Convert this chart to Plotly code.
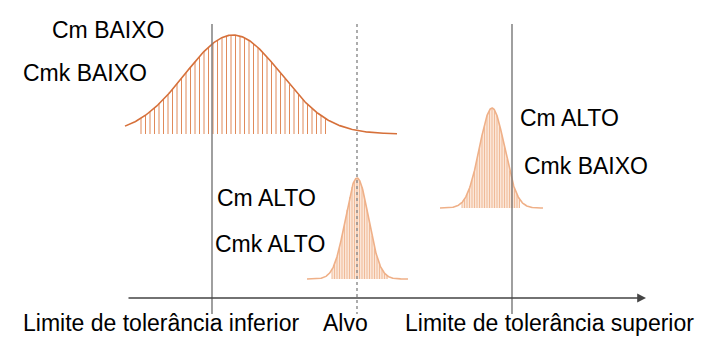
import numpy as np
import plotly.graph_objects as go

# ---- data ----
axis_labels = ["Limite de tolerância inferior", "Alvo", "Limite de tolerância superior"]
axis_label_x = [161, 345, 549]
limit_x = [212, 357, 512]          # LTI, Alvo, LTS
limit_dash = ["solid", "dot", "solid"]

cm_labels = ["Cm BAIXO", "Cmk BAIXO", "Cm ALTO", "Cmk ALTO", "Cm ALTO", "Cmk BAIXO"]
cm_label_x = [50, 21, 215, 213, 518, 522]
cm_label_y = [30, 73, 198, 244, 118, 166]

# bell curves: mean, sigma, peak (top y), base y, curve span, hatch span, hatch step
curve_mean = [233, 357, 492]
curve_sigma = [48, 11.5, 12.5]
curve_top = [35, 178, 108]
curve_base = [134, 279, 208]
curve_lo = [125, 307, 440]
curve_hi = [397, 408, 543]
hatch_lo = [141, 332, 462]
hatch_hi = [327, 388, 520]
hatch_step = [4.5, 2.5, 2.5]
curve_color = ["#d6703a", "#efb088", "#efb088"]
hatch_color = ["#e08a5a", "#f0bb98", "#f0bb98"]
fill_color = [None, "#fbe6d8", "#fbe6d8"]

FONT = "Liberation Sans, Arial, Helvetica, sans-serif"
OFF = 8  # page body margin offset

fig = go.Figure()

def bell(x, m, s, top, base):
    return base - (base - top) * np.exp(-0.5 * ((x - m) / s) ** 2)

for i in range(3):
    m, s, t, b = curve_mean[i], curve_sigma[i], curve_top[i], curve_base[i]
    if fill_color[i]:
        fx = np.linspace(hatch_lo[i], hatch_hi[i], 120)
        px = np.concatenate([[hatch_lo[i]], fx, [hatch_hi[i]]])
        py = np.concatenate([[b], bell(fx, m, s, t, b), [b]])
        fig.add_trace(go.Scatter(x=px, y=py, mode="lines", fill="toself",
                                 fillcolor=fill_color[i], line=dict(width=0),
                                 hoverinfo="skip", showlegend=False))
    hx, hy = [], []
    xv = hatch_lo[i]
    while xv <= hatch_hi[i] + 1e-6:
        hx += [xv, xv, None]
        hy += [b, bell(xv, m, s, t, b), None]
        xv += hatch_step[i]
    fig.add_trace(go.Scatter(x=hx, y=hy, mode="lines",
                             line=dict(color=hatch_color[i], width=1),
                             hoverinfo="skip", showlegend=False))
    xs = np.linspace(curve_lo[i], curve_hi[i], 300)
    fig.add_trace(go.Scatter(x=xs, y=bell(xs, m, s, t, b), mode="lines",
                             line=dict(color=curve_color[i], width=1.6),
                             hoverinfo="skip", showlegend=False))

for xv, d in zip(limit_x, limit_dash):
    fig.add_trace(go.Scatter(x=[xv, xv], y=[24, 314], mode="lines",
                             line=dict(color="#777777" if d == "solid" else "#8a8a8a",
                                       width=1.4, dash=d),
                             hoverinfo="skip", showlegend=False))

fig.add_annotation(x=646, y=298, ax=127, ay=298, xref="x", yref="y",
                   axref="x", ayref="y", text="", showarrow=True,
                   arrowhead=2, arrowsize=1.1, arrowwidth=1.6, arrowcolor="#444444")

for txt, x in zip(axis_labels, axis_label_x):
    fig.add_annotation(x=x, y=323, text=txt, showarrow=False, xanchor="center",
                       yanchor="middle", font=dict(family=FONT, size=23, color="#000"))

for txt, x, y in zip(cm_labels, cm_label_x, cm_label_y):
    fig.add_annotation(x=x, y=y, text=txt, showarrow=False, xanchor="left",
                       yanchor="middle", font=dict(family=FONT, size=23, color="#000"))

fig.update_layout(
    width=717, height=356,
    margin=dict(l=0, r=0, t=0, b=0),
    paper_bgcolor="white", plot_bgcolor="white",
    xaxis=dict(range=[OFF, 717 + OFF], visible=False, fixedrange=True),
    yaxis=dict(range=[356 + OFF, OFF], visible=False, fixedrange=True),
)

fig.write_html("out.html")
